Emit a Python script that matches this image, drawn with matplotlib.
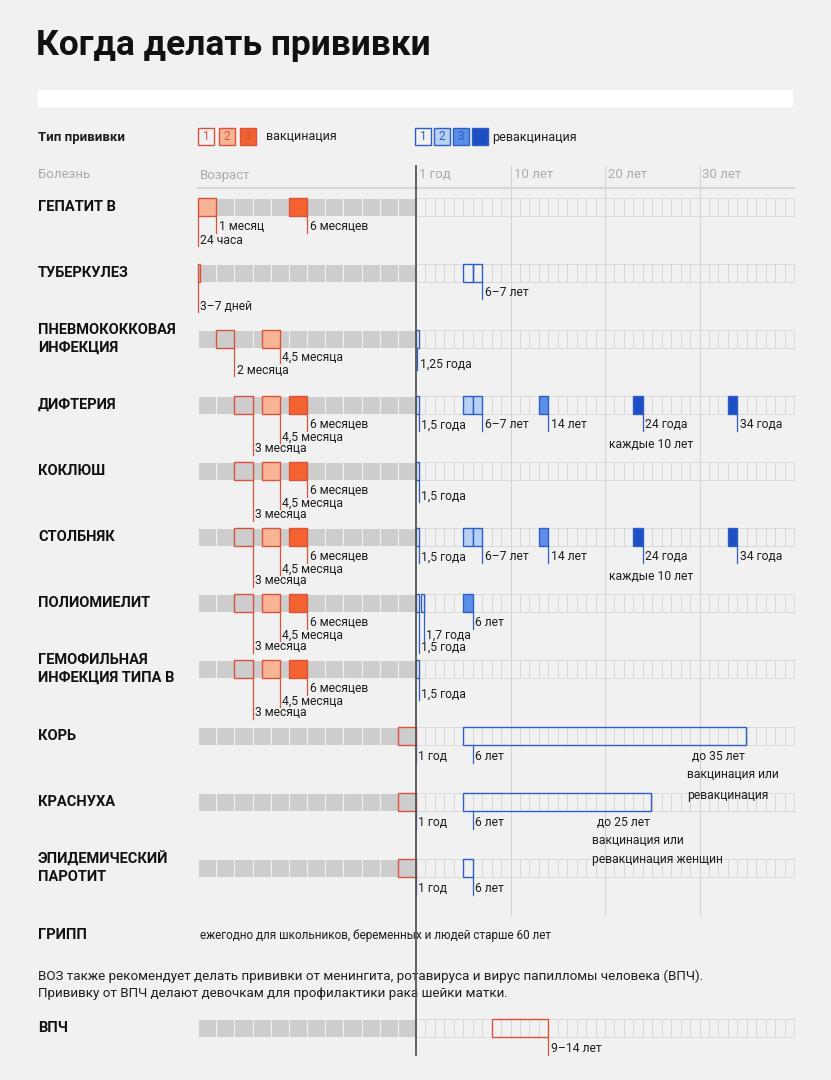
import matplotlib
matplotlib.use("Agg")
import matplotlib.pyplot as plt
from matplotlib.patches import Rectangle

plt.rcParams['font.family'] = 'Roboto'

title = "Когда делать прививки"
diseases = ["ГЕПАТИТ В", "ТУБЕРКУЛЕЗ", "ПНЕВМОКОККОВАЯ\nИНФЕКЦИЯ", "ДИФТЕРИЯ", "КОКЛЮШ",
            "СТОЛБНЯК", "ПОЛИОМИЕЛИТ", "ГЕМОФИЛЬНАЯ\nИНФЕКЦИЯ ТИПА В", "КОРЬ", "КРАСНУХА",
            "ЭПИДЕМИЧЕСКИЙ\nПАРОТИТ", "ГРИПП", "ВПЧ"]
row_y = [207, 273, 339, 405, 471, 537, 603, 669, 736, 802, 868, 935, 1028]
year_ticks = ["1 год", "10 лет", "20 лет", "30 лет"]
year_tick_pos = [0, 10, 20, 30]

dtp_left = [('m', 2, 1, 'v1'), ('m', 3.5, 1, 'v2'), ('m', 5, 1, 'v3')]
dtp_left_lab = [('m', 6, '6 месяцев', 20), ('m', 4.5, '4,5 месяца', 32), ('m', 3, '3 месяца', 44)]
dip_right = [('y', 0, 0.3, 'r1'), ('y', 5, 1, 'r2'), ('y', 6, 1, 'r2'), ('y', 13, 1, 'r3'),
             ('y', 23, 1, 'r4'), ('y', 33, 1, 'r4')]
dip_right_lab = [('y', 0.3, '1,5 года', 20), ('y', 7, '6–7 лет', 20), ('y', 14, '14 лет', 20),
                 ('y', 24, '24 года', 20), ('y', 34, '34 года', 20)]
marks = [
    [('m', 0, 1, 'v2'), ('m', 5, 1, 'v3')],
    [('m', 0, 0.12, 'v1'), ('y', 5, 1, 'r1'), ('y', 6, 1, 'r1')],
    [('m', 1, 1, 'v1'), ('m', 3.5, 1, 'v2'), ('y', 0, 0.3, 'r1')],
    dtp_left + dip_right,
    dtp_left + [('y', 0, 0.3, 'r1')],
    dtp_left + dip_right,
    dtp_left + [('y', 0, 0.3, 'r1'), ('y', 0.5, 0.3, 'r1'), ('y', 5, 1, 'r3')],
    dtp_left + [('y', 0, 0.3, 'r1')],
    [('m', 11, 1, 'v1'), ('y', 5, 29.9, 'r1')],
    [('m', 11, 1, 'v1'), ('y', 5, 19.9, 'r1')],
    [('m', 11, 1, 'v1'), ('y', 5, 1, 'r1')],
    [],
    [('y', 8, 6, 'v1')],
]
labels = [
    [('m', 0, '24 часа', 33), ('m', 1, '1 месяц', 20), ('m', 6, '6 месяцев', 20)],
    [('m', 0, '3–7 дней', 33), ('y', 7, '6–7 лет', 20)],
    [('m', 2, '2 месяца', 31), ('m', 4.5, '4,5 месяца', 18), ('y', 0.15, '1,25 года', 25)],
    dtp_left_lab + dip_right_lab,
    dtp_left_lab + [('y', 0.3, '1,5 года', 25)],
    dtp_left_lab + dip_right_lab,
    dtp_left_lab + [('y', 6, '6 лет', 20), ('y', 0.8, '1,7 года', 32), ('y', 0.3, '1,5 года', 44)],
    dtp_left_lab + [('y', 0.3, '1,5 года', 25)],
    [('y', 0, '1 год', 21), ('y', 6, '6 лет', 21)],
    [('y', 0, '1 год', 21), ('y', 6, '6 лет', 21)],
    [('y', 0, '1 год', 21), ('y', 6, '6 лет', 21)],
    [],
    [('y', 14, '9–14 лет', 21)],
]
extra = {3: [(651, 40, 'каждые 10 лет', 'center')], 5: [(651, 40, 'каждые 10 лет', 'center')],
         8: [(745, 21, 'до 35 лет', 'right'), (687, 39, 'вакцинация или', 'left'), (687, 59, 'ревакцинация', 'left')],
         9: [(650, 21, 'до 25 лет', 'right'), (592, 39, 'вакцинация или', 'left'), (592, 58, 'ревакцинация женщин', 'left')]}

RED = '#d9533b'; BLUE = '#2f5fc4'
styles = {'v1': ('none', RED), 'v2': ('#f7b596', RED), 'v3': ('#f2632f', RED),
          'r1': ('none', BLUE), 'r2': ('#b9cff3', BLUE), 'r3': ('#5b8ee8', BLUE), 'r4': ('#1f4fc4', BLUE)}

X0, MW, Y0, YW = 198, 218 / 12, 416, 9.45
def px(region, v):
    return X0 + v * MW if region == 'm' else Y0 + v * YW

BG = '#f1f1f1'
TXT = '#1e1e1e'
fig = plt.figure(figsize=(8.31, 10.8), dpi=100, facecolor=BG)
ax = fig.add_axes([0, 0, 1, 1])
ax.set_xlim(0, 831); ax.set_ylim(1080, 0); ax.axis('off'); ax.set_facecolor(BG)

ax.text(36, 45, title, fontsize=25.5, fontweight='bold', va='center', color='#111')
ax.add_patch(Rectangle((38, 90), 754, 16, color='white'))
ax.text(38, 137, "Тип прививки", fontsize=9.5, fontweight='bold', va='center', color=TXT)
for i, st in enumerate(['v1', 'v2', 'v3']):
    fc, ec = styles[st]
    ax.add_patch(Rectangle((198 + i * 21, 128), 16, 17, fc=fc, ec=ec, lw=1))
    ax.text(206 + i * 21, 137, str(i + 1), ha='center', va='center', fontsize=8.5, color=RED)
ax.text(266, 137, "вакцинация", fontsize=9, va='center', color=TXT)
for i, st in enumerate(['r1', 'r2', 'r3', 'r4']):
    fc, ec = styles[st]
    ax.add_patch(Rectangle((415 + i * 19, 128), 16, 17, fc=fc, ec=ec, lw=1))
    if i < 3:
        ax.text(423 + i * 19, 137, str(i + 1), ha='center', va='center', fontsize=8.5, color=BLUE)
ax.text(492, 137, "ревакцинация", fontsize=9, va='center', color=TXT)

ax.text(38, 175, "Болезнь", fontsize=9.5, color='#aaa', va='center')
ax.text(200, 175, "Возраст", fontsize=9.5, color='#aaa', va='center')
for t, p in zip(year_ticks, year_tick_pos):
    x = px('y', p)
    ax.text(x + 3, 175, t, fontsize=9.5, color='#aaa', va='center')
    if p > 0:
        ax.plot([x, x], [166, 915], color='#d4d4d4', lw=0.8, zorder=0)
ax.plot([198, 794], [188, 188], color='#d8d8d8', lw=1.5)
ax.plot([416, 416], [166, 1055], color='#555', lw=1.3, zorder=5)

for i, (name, yc) in enumerate(zip(diseases, row_y)):
    ax.text(38, yc, name, fontsize=10.5, fontweight='bold', va='center', color='#111', linespacing=1.3)
    if i == 11:
        ax.text(200, yc, "ежегодно для школьников, беременных и людей старше 60 лет",
                fontsize=8.5, va='center', color=TXT)
        continue
    for k in range(12):
        ax.add_patch(Rectangle((px('m', k), yc - 9), MW, 18, fc='#cdcdcd', ec=BG, lw=0.8))
    for k in range(40):
        ax.add_patch(Rectangle((px('y', k), yc - 9), YW, 18, fc='none', ec='#d6d6d6', lw=0.6))
    for reg, s, w, st in marks[i]:
        fc, ec = styles[st]
        ax.add_patch(Rectangle((px(reg, s), yc - 9), w * (MW if reg == 'm' else YW), 18,
                               fc=fc, ec=ec, lw=1, zorder=3))
    for reg, v, t, off in labels[i]:
        x = px(reg, v)
        col = BLUE if reg == 'y' and 'r' in ''.join(m[3] for m in marks[i] if m[0] == 'y') else RED
        ax.plot([x, x], [yc + 9, yc + off + 6], color=col, lw=0.9, zorder=4)
        ax.text(x + 2.5, yc + off, t, fontsize=8.7, va='center', color=TXT)
    for xx, off, t, ha in extra.get(i, []):
        ax.text(xx, yc + off, t, fontsize=8.7, va='center', ha=ha, color=TXT)

ax.text(38, 985, "ВОЗ также рекомендует делать прививки от менингита, ротавируса и вирус папилломы человека (ВПЧ).\n"
        "Прививку от ВПЧ делают девочкам для профилактики рака шейки матки.",
        fontsize=9.6, va='center', color=TXT, linespacing=1.4)

fig.savefig("out.png", dpi=100, facecolor=BG)
